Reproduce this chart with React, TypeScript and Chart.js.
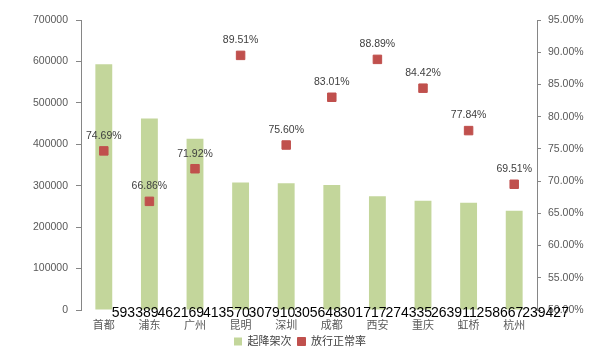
import React, { useEffect, useRef } from "react";
import { Chart, registerables } from "chart.js";

Chart.register(...registerables);

const categories = ["首都", "浦东", "广州", "昆明", "深圳", "成都", "西安", "重庆", "虹桥", "杭州"];
const movements = [593389, 462169, 413570, 307910, 305648, 301717, 274335, 263911, 258667, 239427];
const onTimeRate = [74.69, 66.86, 71.92, 89.51, 75.6, 83.01, 88.89, 84.42, 77.84, 69.51];
const seriesNames = ["起降架次", "放行正常率"];

const FONT = "'Liberation Sans', 'Noto Sans CJK SC', sans-serif";
const AXIS = "#868686";
const TICK_TEXT = "#595959";

const labelPlugin = {
  id: "valueLabels",
  afterDatasetsDraw(chart: any) {
    const ctx = chart.ctx;
    ctx.save();
    const barMeta = chart.getDatasetMeta(0);
    ctx.font = `14px ${FONT}`;
    ctx.fillStyle = "#000000";
    ctx.textAlign = "left";
    ctx.textBaseline = "alphabetic";
    barMeta.data.forEach((el: any, i: number) => {
      ctx.fillText(String(movements[i]), el.x + 8, chart.chartArea.bottom + 7);
    });
    const lineMeta = chart.getDatasetMeta(1);
    ctx.font = `10.5px ${FONT}`;
    ctx.fillStyle = "#404040";
    ctx.textAlign = "center";
    ctx.textBaseline = "middle";
    lineMeta.data.forEach((el: any, i: number) => {
      ctx.fillText(onTimeRate[i].toFixed(2) + "%", el.x, el.y - 15);
    });
    ctx.restore();
  },
};

export default function App() {
  const ref = useRef<HTMLCanvasElement | null>(null);
  useEffect(() => {
    if (!ref.current) return;
    const chart = new Chart(ref.current, {
      type: "bar",
      data: {
        labels: categories,
        datasets: [
          {
            type: "bar",
            label: seriesNames[0],
            data: movements,
            backgroundColor: "#c3d69b",
            borderWidth: 0,
            yAxisID: "y",
            barPercentage: 0.37,
            categoryPercentage: 1,
            order: 1,
          } as any,
          {
            type: "line",
            label: seriesNames[1],
            data: onTimeRate,
            showLine: false,
            backgroundColor: "#c0504d",
            borderColor: "#c0504d",
            borderWidth: 1,
            pointStyle: "rect",
            pointRadius: 6,
            pointBackgroundColor: "#c0504d",
            pointBorderColor: "#c0504d",
            pointBorderWidth: 1,
            yAxisID: "y1",
            order: 0,
          } as any,
        ],
      },
      options: {
        responsive: false,
        animation: false,
        layout: { padding: { top: 20, left: 0, right: 0, bottom: 3 } },
        plugins: {
          tooltip: { enabled: false },
          legend: {
            position: "bottom",
            labels: {
              boxWidth: 8,
              boxHeight: 8,
              padding: 6,
              color: "#404040",
              font: { size: 11, family: FONT },
              sort: (a: any, b: any) => a.datasetIndex - b.datasetIndex,
            },
          },
        },
        scales: {
          x: {
            grid: { display: false, drawTicks: false },
            border: { display: false },
            ticks: { color: TICK_TEXT, font: { size: 11, family: FONT }, padding: 9, maxRotation: 0, autoSkip: false },
            afterFit: (s: any) => {
              s.height = 20;
            },
          },
          y: {
            position: "left",
            min: 0,
            max: 700000,
            ticks: {
              stepSize: 100000,
              color: TICK_TEXT,
              font: { size: 10.5, family: FONT },
              padding: 8,
              callback: (v: any) => String(v),
            },
            grid: { drawOnChartArea: false, drawTicks: true, tickLength: 5, color: AXIS },
            border: { display: true, color: AXIS, width: 1 },
            afterFit: (s: any) => {
              s.width = 81;
            },
          },
          y1: {
            position: "right",
            min: 50,
            max: 95,
            ticks: {
              stepSize: 5,
              color: TICK_TEXT,
              font: { size: 10.5, family: FONT },
              padding: 7,
              callback: (v: any) => Number(v).toFixed(2) + "%",
            },
            grid: { drawOnChartArea: false, drawTicks: true, tickLength: 4, color: AXIS },
            border: { display: true, color: AXIS, width: 1 },
            afterFit: (s: any) => {
              s.width = 63;
            },
          },
        },
      } as any,
      plugins: [labelPlugin],
    });
    return () => chart.destroy();
  }, []);
  return (
    <div style={{ position: "fixed", left: 0, top: 0, width: 600, height: 360, background: "#ffffff" }}>
      <canvas ref={ref} width={600} height={360} />
    </div>
  );
}
